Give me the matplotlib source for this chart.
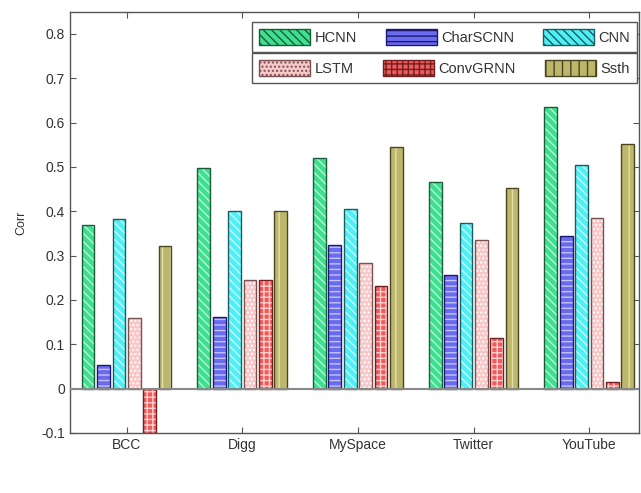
import numpy as np
import matplotlib
matplotlib.use('Agg')
import matplotlib.pyplot as plt
from matplotlib.patches import Patch

# correlation scores per dataset for each model
datasets = ['BCC', 'Digg', 'MySpace', 'Twitter', 'YouTube']
models = ['HCNN', 'CharSCNN', 'CNN', 'LSTM', 'ConvGRNN', 'Ssth']
hcnn = [0.370, 0.498, 0.520, 0.465, 0.636]
charscnn = [0.054, 0.162, 0.324, 0.257, 0.345]
cnn = [0.383, 0.401, 0.404, 0.374, 0.505]
lstm = [0.160, 0.244, 0.284, 0.335, 0.384]
convgrnn = [-0.100, 0.245, 0.232, 0.113, 0.014]
ssth = [0.322, 0.401, 0.544, 0.453, 0.551]
yticks = [-0.1, 0, 0.1, 0.2, 0.3, 0.4, 0.5, 0.6, 0.7, 0.8]

series = [hcnn, charscnn, cnn, lstm, convgrnn, ssth]
fills = ['#3ee08f', '#6b6bf0', '#4ff0f5', '#f8c8c8', '#f05a5a', '#bdb76b']
hatch_cols = ['#b8f5d6', '#c4c4fa', '#c8fbfd', '#ffffff', '#ffd0d0', '#e2dfb0']
edges = ['#1a5c3a', '#1a1a70', '#1a5c60', '#7a5050', '#702020', '#4a4520']
hatches = ['\\\\\\\\', '---', '\\\\\\\\', '....', '+++', '||']

plt.rcParams['font.family'] = ['Liberation Sans', 'DejaVu Sans']
plt.rcParams['hatch.linewidth'] = 1.0

fig = plt.figure(figsize=(6.41, 4.93), dpi=100)
ax = fig.add_axes([0.109, 0.122, 0.888, 0.854])

x = np.arange(1, len(datasets) + 1)
step = 0.133
width = 0.11
for i, vals in enumerate(series):
    pos = x + (i - 2.5) * step
    ax.bar(pos, vals, width, color=fills[i], edgecolor=hatch_cols[i],
           linewidth=0, hatch=hatches[i], zorder=2)
    ax.bar(pos, vals, width, color='none', edgecolor=edges[i],
           linewidth=1.0, zorder=3)

ax.axhline(0, color='#888888', linewidth=1.5, zorder=4)

ax.set_xlim(0.51, 5.43)
ax.set_ylim(-0.1, 0.85)
ax.set_xticks(x)
ax.set_xticklabels(datasets)
ax.set_yticks(yticks)
ax.set_yticklabels(['%g' % t for t in yticks])
ax.set_ylabel('Corr', fontsize=9, color='#333333', labelpad=10)
ax.tick_params(direction='in', top=True, right=True, length=4,
               labelsize=10, colors='#555555', labelcolor='#333333')
for s in ax.spines.values():
    s.set_color('#555555')
    s.set_linewidth(1.0)

# two stacked legend boxes, three entries each, same width
def handles(idx):
    return [Patch(facecolor=fills[i], edgecolor=edges[i], hatch=hatches[i],
                  linewidth=1.0) for i in idx]

leg_x0 = 252 / 641
leg_w = 385 / 641
kw = dict(ncol=3, fontsize=10.5, frameon=True, fancybox=False, framealpha=1,
          edgecolor='#555555', handlelength=3.5, handleheight=1.25,
          handletextpad=0.3, columnspacing=0.8, borderpad=0.5,
          borderaxespad=0, mode='expand', loc='upper left',
          bbox_transform=fig.transFigure)
leg1 = ax.legend(handles(range(3)), models[:3],
                 bbox_to_anchor=(leg_x0, 1 - 22 / 493, leg_w, 0), **kw)
ax.add_artist(leg1)
leg2 = ax.legend(handles(range(3, 6)), models[3:],
                 bbox_to_anchor=(leg_x0, 1 - 53 / 493, leg_w, 0), **kw)
for lg in (leg1, leg2):
    lg.get_frame().set_linewidth(1.0)
    for t in lg.get_texts():
        t.set_color('#333333')

fig.savefig('out.png', dpi=100)
